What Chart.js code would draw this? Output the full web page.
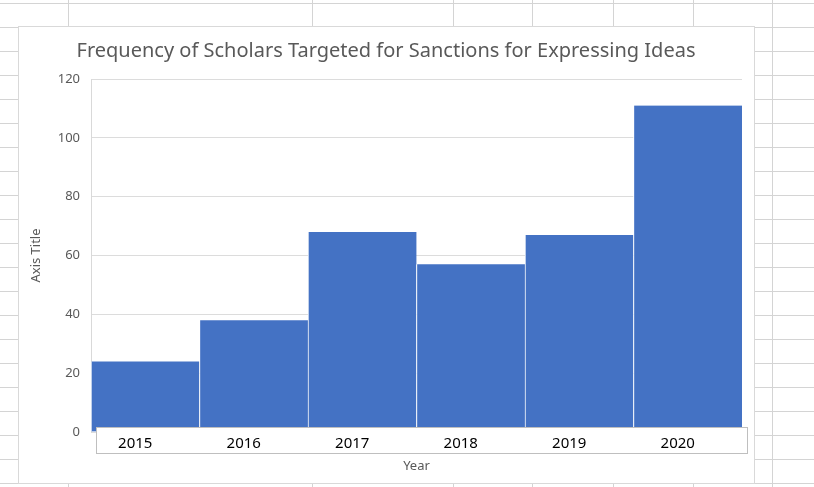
<!DOCTYPE html>
<html>
<head>
<meta charset="utf-8">
<script src="https://cdn.jsdelivr.net/npm/chart.js@4"></script>
<style>
  html, body { margin: 0; padding: 0; background: #fff; }
  #wrap { width: 814px; height: 487px; }
</style>
</head>
<body>
<div id="wrap"><canvas id="histChart" width="814" height="487"></canvas></div>
<script>
const years = ['2015', '2016', '2017', '2018', '2019', '2020'];
const scholarCounts = [24, 38, 68, 57, 67, 111];
const yTicks = [0, 20, 40, 60, 80, 100, 120];

const chartTitle = 'Frequency of Scholars Targeted for Sanctions for Expressing Ideas';
const xTitle = 'Year';
const yTitle = 'Axis Title';

// spreadsheet cells behind the chart, and the chart frame
const sheetBackground = {
    id: 'sheetBackground',
    beforeDraw(chart) {
        const ctx = chart.ctx;
        const w = chart.width, h = chart.height;
        ctx.save();
        ctx.fillStyle = '#fff';
        ctx.fillRect(0, 0, w, h);
        ctx.strokeStyle = '#d4d4d4';
        ctx.lineWidth = 1;
        for (let y = 3; y < h; y += 24.0) {
            ctx.beginPath();
            ctx.moveTo(0, Math.round(y) + 0.5);
            ctx.lineTo(w, Math.round(y) + 0.5);
            ctx.stroke();
        }
        [68, 312, 453, 532, 613, 693, 772].forEach(x => {
            ctx.beginPath();
            ctx.moveTo(x + 0.5, 0);
            ctx.lineTo(x + 0.5, h);
            ctx.stroke();
        });
        // chart frame
        ctx.fillStyle = '#fff';
        ctx.fillRect(19, 27, 735, 456);
        ctx.strokeStyle = '#d9d9d9';
        ctx.strokeRect(18.5, 26.5, 736, 457);
        ctx.restore();
    },
};

// the text box that holds the year labels, laid over the bar bottoms
const labelBox = {
    id: 'labelBox',
    afterDatasetsDraw(chart) {
        const { ctx, chartArea } = chart;
        ctx.save();
        ctx.fillStyle = '#fff';
        ctx.fillRect(chartArea.left + 5, chartArea.bottom - 5, chartArea.right - chartArea.left, 26);
        ctx.strokeStyle = '#bfbfbf';
        ctx.lineWidth = 1;
        ctx.strokeRect(chartArea.left + 5.5, chartArea.bottom - 4.5, chartArea.right - chartArea.left, 26);
        ctx.restore();
    },
};

const ctx = document.getElementById('histChart').getContext('2d');
const histChart = new Chart(ctx, {
    type: 'bar',
    data: {
        labels: years,
        datasets: [
            {
                label: 'Scholars',
                data: scholarCounts,
                backgroundColor: '#4472c4',
                borderColor: '#ffffff',
                borderWidth: { left: 1, right: 0, top: 0, bottom: 0 },
                borderSkipped: false,
                barPercentage: 1,
                categoryPercentage: 1,
            },
        ],
    },
    options: {
        responsive: false,
        animation: false,
        devicePixelRatio: 1,
        layout: {
            padding: { left: 0, right: 42, top: 27, bottom: 5 },
        },
        plugins: {
            legend: { display: false },
            tooltip: { enabled: false },
            title: {
                display: true,
                text: chartTitle,
                color: '#595959',
                font: { family: 'Noto Sans', size: 20, weight: 'normal', lineHeight: 1.2 },
                padding: { top: 12, bottom: 16 },
            },
        },
        scales: {
            x: {
                grid: { display: false, drawTicks: false },
                border: { display: false },
                ticks: {
                    z: 1,
                    color: '#000',
                    font: { family: 'Noto Sans', size: 15 },
                    padding: 3,
                    labelOffset: -10,
                    maxRotation: 0,
                },
                title: {
                    display: true,
                    text: xTitle,
                    color: '#595959',
                    font: { family: 'Noto Sans', size: 13 },
                    padding: { top: 0, bottom: 8 },
                },
                afterFit(scale) { scale.height = 50; },
            },
            y: {
                min: 0,
                max: 120,
                afterBuildTicks(scale) {
                    scale.ticks = yTicks.map(v => ({ value: v }));
                },
                grid: { color: '#dcdcdc', drawTicks: false },
                border: { display: true, color: '#d9d9d9' },
                ticks: {
                    color: '#595959',
                    font: { family: 'Noto Sans', size: 13 },
                    padding: 11,
                },
                title: {
                    display: true,
                    text: yTitle,
                    color: '#595959',
                    font: { family: 'Noto Sans', size: 13 },
                    padding: { top: 28, bottom: 0 },
                },
                afterFit(scale) { scale.width = 91; },
            },
            // empty right-hand margin so the title centres like the original
            yRight: {
                position: 'right',
                display: true,
                grid: { display: false, drawTicks: false },
                border: { display: false },
                ticks: { display: false },
                afterFit(scale) { scale.width = 30; },
            },
        },
    },
    plugins: [sheetBackground, labelBox],
});
</script>
</body>
</html>
